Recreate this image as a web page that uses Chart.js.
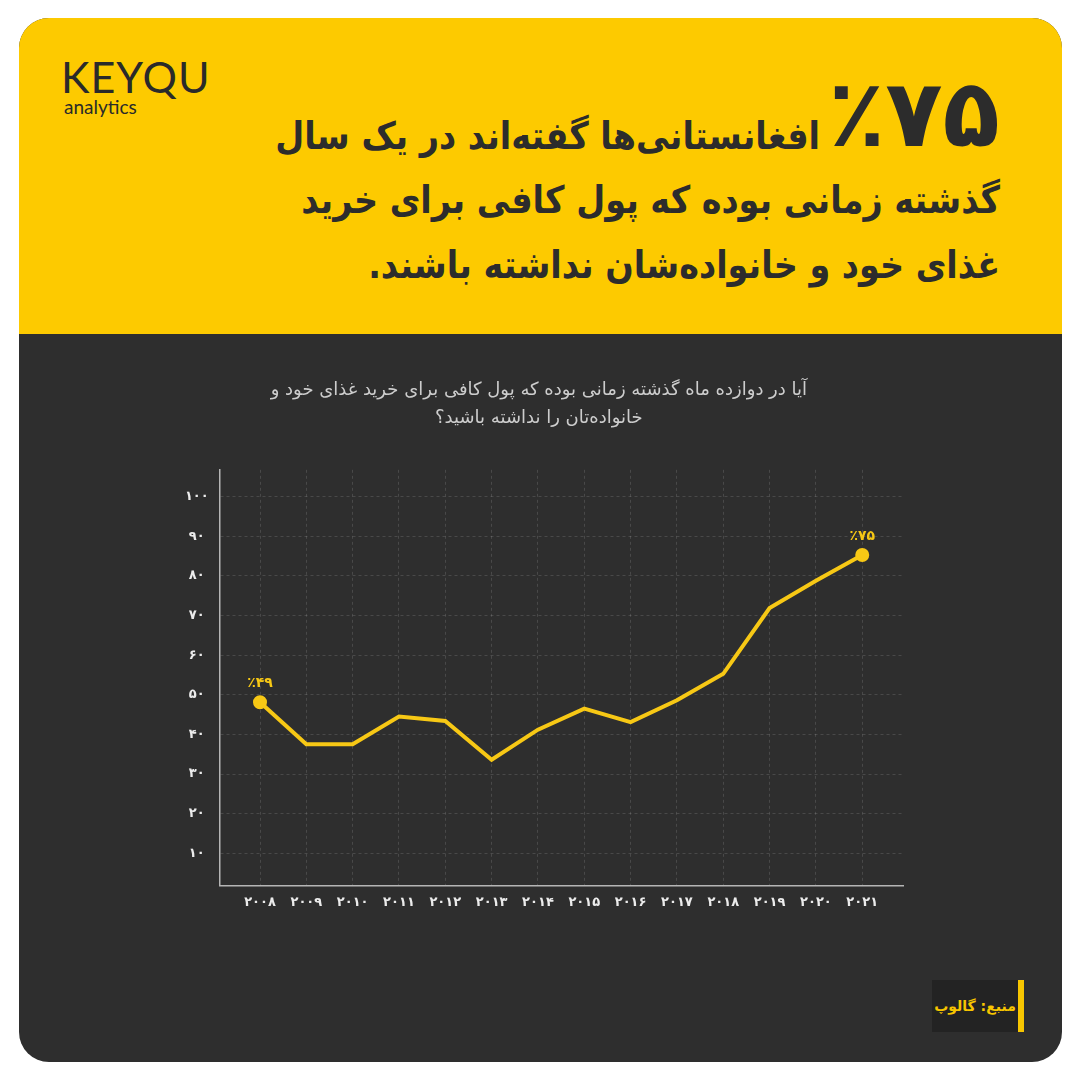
<!DOCTYPE html>
<html lang="fa">
<head>
<meta charset="utf-8">
<script src="https://cdn.jsdelivr.net/npm/chart.js@4.4.1/dist/chart.umd.min.js"></script>
<style>
  html, body { margin: 0; padding: 0; background: #ffffff; }
  body { width: 1080px; height: 1080px; position: relative; overflow: hidden; font-family: 'DejaVu Sans', sans-serif; }
  .card { position: absolute; left: 19px; top: 18px; width: 1043px; height: 1044px; border-radius: 30px; overflow: hidden; background: #2e2e2e; }
  .head { position: absolute; left: 0; top: 0; width: 100%; height: 316px; background: #fdca00; }
  .logo { position: absolute; left: 42px; top: 38px; color: #2a2a2a; direction: ltr; }
  .logo .brand { font-family: 'Lato', sans-serif; font-size: 43px; font-weight: 400; letter-spacing: 1px; line-height: 42px; }
  .logo .sub { font-family: 'Lato', sans-serif; font-size: 19px; line-height: 18px; margin-left: 3px; }
  .big { position: absolute; right: 62px; top: 46px; font-size: 94px; font-weight: bold; line-height: 100px; color: #2c2c2c; direction: rtl; }
  .line { position: absolute; font-size: 38px; font-weight: bold; line-height: 60px; color: #2c2c2c; direction: rtl; white-space: nowrap; transform: scaleX(0.88); transform-origin: right center; }
  #chartWrap { position: absolute; left: 0; top: 317px; }
  .source { position: absolute; left: 913px; top: 962px; width: 86px; height: 52px; background: #232323; border-right: 6px solid #f7c600; color: #f7c600; font-size: 14px; font-weight: bold; line-height: 52px; text-align: center; direction: rtl; }
</style>
</head>
<body>
<div class="card">
  <div class="head">
    <div class="logo"><div class="brand">KEYQU</div><div class="sub">analytics</div></div>
    <div class="big">٪۷۵</div>
    <div class="line" style="right: 242px; top: 88px;">افغانستانی‌ها گفته‌اند در یک سال</div>
    <div class="line" style="right: 62px; top: 152px;">گذشته زمانی بوده که پول کافی برای خرید</div>
    <div class="line" style="right: 62px; top: 217px;">غذای خود و خانواده‌شان نداشته باشند.</div>
  </div>
  <div id="chartWrap"><canvas id="foodChart" width="1043" height="620"></canvas></div>
  <div class="source">منبع: گالوپ</div>
</div>

<script>
// survey years and the share who lacked money for food
const years = [2008, 2009, 2010, 2011, 2012, 2013, 2014, 2015, 2016, 2017, 2018, 2019, 2020, 2021];
const yearLabels = ['۲۰۰۸', '۲۰۰۹', '۲۰۱۰', '۲۰۱۱', '۲۰۱۲', '۲۰۱۳', '۲۰۱۴', '۲۰۱۵', '۲۰۱۶', '۲۰۱۷', '۲۰۱۸', '۲۰۱۹', '۲۰۲۰', '۲۰۲۱'];
const foodShare = [48.1, 37.5, 37.5, 44.5, 43.4, 33.6, 41.2, 46.5, 43.1, 48.6, 55.3, 71.9, 78.8, 85.3];

const yTicks = [10, 20, 30, 40, 50, 60, 70, 80, 90, 100];
const yTickLabels = ['۱۰', '۲۰', '۳۰', '۴۰', '۵۰', '۶۰', '۷۰', '۸۰', '۹۰', '۱۰۰'];

// only the first and last points get a label
const endLabels = ['٪۴۹', '٪۷۵'];

const chartTitle = [
    'آیا در دوازده ماه گذشته زمانی بوده که پول کافی برای خرید غذای خود و',
    'خانواده‌تان را نداشته باشید؟'
];

const yellow = '#f7c815';
const gridColor = 'rgba(255,255,255,0.13)';

const endLabelPlugin = {
    id: 'endLabels',
    afterDatasetsDraw(chart) {
        const pts = chart.getDatasetMeta(0).data;
        const ctx = chart.ctx;
        ctx.save();
        ctx.fillStyle = yellow;
        ctx.font = 'bold 14px "DejaVu Sans"';
        ctx.textAlign = 'center';
        ctx.textBaseline = 'middle';
        ctx.direction = 'ltr';
        ctx.fillText(endLabels[0], pts[0].x, pts[0].y - 19);
        ctx.fillText(endLabels[1], pts[pts.length - 1].x, pts[pts.length - 1].y - 19);
        ctx.restore();
    }
};

const ctx = document.getElementById('foodChart').getContext('2d');
new Chart(ctx, {
    type: 'line',
    data: {
        datasets: [{
            label: 'food',
            data: foodShare.map((v, i) => ({ x: i, y: v })),
            borderColor: yellow,
            backgroundColor: yellow,
            borderWidth: 4,
            tension: 0,
            pointRadius: foodShare.map((v, i) => (i === 0 || i === foodShare.length - 1) ? 5 : 0),
            pointHoverRadius: 0,
            borderJoinStyle: 'miter'
        }]
    },
    options: {
        responsive: false,
        animation: false,
        devicePixelRatio: 1,
        layout: { padding: { left: 155.7, right: 159, top: 0, bottom: 0 } },
        plugins: {
            legend: { display: false },
            tooltip: { enabled: false },
            title: {
                display: true,
                text: chartTitle,
                color: '#cdcdcd',
                font: { family: 'DejaVu Sans', size: 18, weight: 'normal', lineHeight: 1.55 },
                padding: { top: 41, bottom: 38 }
            }
        },
        scales: {
            x: {
                type: 'linear',
                min: -0.87,
                max: 13.88,
                afterBuildTicks: (scale) => { scale.ticks = years.map((y, i) => ({ value: i })); },
                afterFit: (scale) => { scale.height = 69.3; },
                ticks: {
                    callback: (value) => yearLabels[value],
                    color: '#ececec',
                    font: { family: 'DejaVu Sans', size: 13, weight: 'bold' },
                    padding: 9,
                    maxRotation: 0,
                    autoSkip: false
                },
                grid: { color: gridColor, drawTicks: false, lineWidth: 1 },
                border: { display: true, color: '#b5b5b5', width: 1.5, dash: [3, 3] }
            },
            y: {
                min: 1.8,
                max: 106.8,
                afterBuildTicks: (scale) => { scale.ticks = yTicks.map(v => ({ value: v })); },
                afterFit: (scale) => { scale.width = 45; },
                ticks: {
                    callback: (value) => yTickLabels[yTicks.indexOf(value)],
                    color: '#ececec',
                    font: { family: 'DejaVu Sans', size: 13, weight: 'bold' },
                    crossAlign: 'center',
                    padding: 11
                },
                grid: { color: gridColor, drawTicks: false, lineWidth: 1 },
                border: { display: true, color: '#b5b5b5', width: 1.5, dash: [3, 3] }
            }
        }
    },
    plugins: [endLabelPlugin]
});
</script>
</body>
</html>
